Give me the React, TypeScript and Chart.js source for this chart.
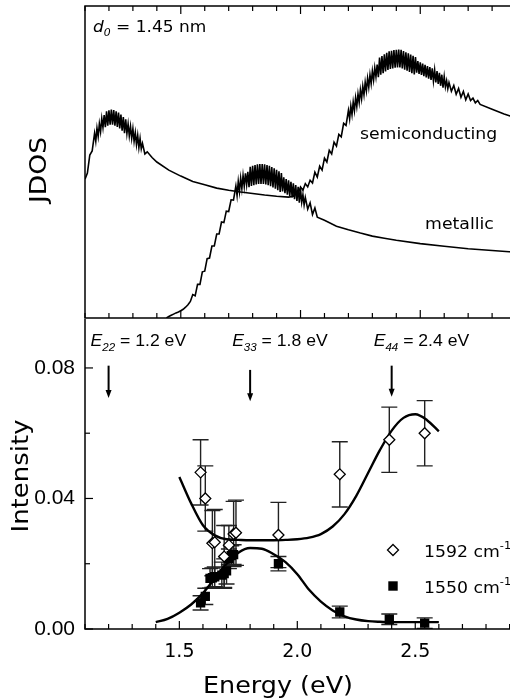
import React, { useEffect, useRef } from "react";
import { Chart, registerables } from "chart.js";
Chart.register(...registerables);

// ---------------- data ----------------
// Top panel: joint density of states (arbitrary units)
const SEMI_E = [
  1.10, 1.11, 1.12, 1.13,
  1.14, 1.145, 1.15, 1.155, 1.16, 1.165, 1.17, 1.175, 1.18, 1.185,
  1.19, 1.195, 1.20, 1.205, 1.21, 1.215, 1.22, 1.225, 1.23, 1.235,
  1.24, 1.245, 1.25, 1.255, 1.26, 1.265, 1.27, 1.275, 1.28, 1.285,
  1.29, 1.295, 1.30, 1.305, 1.31, 1.315, 1.32, 1.325, 1.33, 1.335, 1.34,
  1.35, 1.36,
  1.38, 1.40, 1.45, 1.50, 1.55, 1.60, 1.65, 1.70, 1.75, 1.80, 1.85, 1.90, 1.95, 1.97,
  1.98, 1.99, 2.00, 2.01, 2.02, 2.03, 2.04, 2.05, 2.06, 2.07, 2.08, 2.09, 2.10, 2.11, 2.12, 2.13, 2.14, 2.15, 2.16, 2.17, 2.18, 2.19,
  2.20, 2.205, 2.21, 2.215, 2.22, 2.225, 2.23, 2.235, 2.24, 2.245,
  2.25, 2.255, 2.26, 2.265, 2.27, 2.275, 2.28, 2.285, 2.29, 2.295,
  2.30, 2.305, 2.31, 2.315, 2.32, 2.325, 2.33, 2.335, 2.34, 2.345,
  2.35, 2.355, 2.36, 2.365, 2.37, 2.375, 2.38, 2.385, 2.39, 2.395,
  2.40, 2.405, 2.41, 2.415, 2.42, 2.425, 2.43, 2.435, 2.44, 2.445,
  2.45, 2.455, 2.46, 2.465, 2.47, 2.475, 2.48, 2.485, 2.49, 2.495,
  2.50, 2.505, 2.51, 2.515, 2.52, 2.525, 2.53, 2.535, 2.54, 2.545,
  2.55, 2.555, 2.56, 2.565, 2.57, 2.575, 2.58, 2.585, 2.59, 2.595,
  2.60, 2.605, 2.61, 2.615, 2.62,
  2.63, 2.64, 2.65, 2.66, 2.67, 2.68, 2.69, 2.70, 2.71, 2.72, 2.73, 2.74, 2.75,
  2.80, 2.85, 2.90, 3.00,
];
const SEMI_J = [
  46.3, 48.3, 54.3, 55.7,
  61.6, 58.9, 63.3, 60.5, 64.8, 62.1, 66.5, 63.5, 67.6, 63.6,
  68.9, 64.1, 69.2, 64.4, 69.5, 64.4, 69.3, 64.1, 68.9, 63.7,
  68.5, 63.2, 67.8, 62.4, 67.0, 61.6, 66.2, 61.5, 64.7, 60.7,
  63.9, 59.9, 63.1, 58.9, 61.8, 57.8, 60.9, 56.8, 59.9, 56.4, 58.2,
  54.7, 55.4,
  53.5, 52.0, 49.3, 47.3, 45.5, 44.4, 43.3, 42.6, 42.0, 41.5, 41.0, 40.6, 40.3, 40.6,
  42.3, 41.4, 43.7, 42.6, 44.8, 43.7, 45.9, 45.0, 48.6, 47.0, 50.6, 49.3, 53.3, 52.0, 55.9, 54.7, 58.6, 57.3, 61.2, 60.4, 64.9, 64.2,
  69.2, 66.4, 70.7, 67.8, 72.0, 69.1, 73.4, 70.5, 74.7, 71.8,
  76.0, 73.1, 77.3, 74.4, 78.6, 75.7, 79.9, 76.9, 81.1, 78.1,
  82.3, 79.3, 83.4, 80.4, 84.5, 80.3, 86.8, 81.1, 87.3, 81.6,
  87.9, 82.2, 88.4, 82.7, 88.9, 83.0, 89.1, 83.2, 89.3, 83.4,
  89.4, 83.5, 89.5, 83.5, 89.4, 83.2, 89.0, 82.8, 88.6, 82.4,
  88.2, 82.0, 87.8, 81.6, 87.4, 81.2, 87.0, 81.8, 85.6, 81.4,
  85.2, 81.0, 84.8, 80.6, 84.4, 80.2, 84.0, 79.8, 83.6, 79.4,
  83.2, 79.0, 82.7, 78.5, 82.3, 78.0, 81.7, 77.4, 81.1, 76.8,
  80.5, 77.0, 79.1, 76.4, 78.5,
  75.6, 77.5, 74.6, 76.5, 73.6, 75.5, 72.7, 74.7, 72.5, 73.3, 71.7, 72.5, 71.2,
  69.6, 68.0, 66.7, 64.5,
];
const MET_E = [
  1.44, 1.45, 1.46, 1.47, 1.48, 1.49, 1.50, 1.51, 1.52, 1.53,
  1.54, 1.55, 1.56, 1.57, 1.58, 1.59, 1.60, 1.61, 1.62, 1.63,
  1.64, 1.65, 1.66, 1.67, 1.68, 1.69, 1.70, 1.71, 1.72,
  1.73, 1.735, 1.74, 1.745, 1.75, 1.755, 1.76, 1.765, 1.77, 1.775,
  1.78, 1.785, 1.79, 1.795, 1.80, 1.805, 1.81, 1.815, 1.82, 1.825,
  1.83, 1.835, 1.84, 1.845, 1.85, 1.855, 1.86, 1.865, 1.87, 1.875,
  1.88, 1.885, 1.89, 1.895, 1.90, 1.905, 1.91, 1.915, 1.92, 1.925,
  1.93, 1.935, 1.94, 1.945, 1.95, 1.955, 1.96, 1.965, 1.97, 1.975,
  1.98, 1.985, 1.99, 1.995, 2.00, 2.005, 2.01, 2.015, 2.02,
  2.03, 2.04, 2.05, 2.06, 2.07,
  2.10, 2.15, 2.20, 2.25, 2.30, 2.35, 2.40, 2.50, 2.60, 2.70, 2.80, 2.90, 3.00,
];
const MET_J = [
  0.0, 0.5, 0.9, 1.3, 1.7, 2.0, 2.4, 2.9, 3.6, 4.4,
  5.5, 7.8, 7.4, 11.2, 11.2, 15.4, 15.6, 19.8, 20.0, 24.0,
  24.0, 28.0, 28.0, 32.0, 31.8, 35.6, 35.5, 39.4, 39.3,
  44.0, 40.8, 45.5, 42.1, 46.6, 43.1, 47.5, 43.9, 48.2, 44.5,
  48.7, 43.6, 50.4, 44.0, 50.7, 44.3, 51.0, 44.5, 51.2, 44.7,
  51.3, 44.7, 51.3, 44.7, 51.2, 44.5, 51.0, 44.3, 50.7, 43.9,
  50.3, 43.5, 49.9, 43.1, 49.4, 42.6, 48.9, 42.0, 48.3, 42.2,
  46.9, 41.6, 46.3, 41.1, 45.9, 40.7, 45.4, 40.2, 44.9, 39.6,
  44.3, 39.0, 43.7, 38.4, 43.0, 38.6, 41.1, 37.7, 40.2,
  36.3, 38.4, 34.5, 36.7, 33.6,
  32.6, 30.6, 29.4, 28.3, 27.3, 26.6, 25.9, 24.8, 23.9, 23.1, 22.5, 21.9, 21.5,
];
const JDOS_LABELS = ["semiconducting", "metallic"];
const JDOS_LABEL_E = [2.248, 2.52];
const JDOS_LABEL_V = [59.7, 29.7];

// Bottom panel: Raman intensities
const D1592_E = [1.59, 1.61, 1.64, 1.65, 1.69, 1.71, 1.73, 1.74, 1.92, 2.18, 2.39, 2.54];
const D1592_I = [0.048, 0.040, 0.0263, 0.0266, 0.0222, 0.0257, 0.0291, 0.0295, 0.0288, 0.0474, 0.058, 0.060];
const D1592_ERR = [0.010, 0.010, 0.010, 0.010, 0.0095, 0.006, 0.010, 0.010, 0.010, 0.010, 0.010, 0.010];

const D1550_E = [1.59, 1.61, 1.63, 1.64, 1.65, 1.68, 1.69, 1.70, 1.71, 1.72, 1.73, 1.92, 2.18, 2.39, 2.54];
const D1550_I = [0.0080, 0.0100, 0.0155, 0.0157, 0.0160, 0.0165, 0.0170, 0.0178, 0.0215, 0.0225, 0.0228, 0.0200, 0.0052, 0.0030, 0.0018];
const D1550_ERR = [0.0022, 0.0025, 0.003, 0.003, 0.003, 0.004, 0.0045, 0.004, 0.003, 0.003, 0.003, 0.0022, 0.0018, 0.0016, 0.0016];

const FIT1592_E = [1.50, 1.55, 1.60, 1.65, 1.70, 1.75, 1.80, 1.85, 1.90, 1.95, 2.00, 2.05, 2.10, 2.15, 2.20, 2.25, 2.30, 2.35, 2.40, 2.45, 2.50, 2.55, 2.60];
const FIT1592_I = [0.0466, 0.0385, 0.0318, 0.0287, 0.0275, 0.0273, 0.0272, 0.0272, 0.0272, 0.0273, 0.0275, 0.0280, 0.0291, 0.0314, 0.0352, 0.0408, 0.0478, 0.0548, 0.0608, 0.0647, 0.0658, 0.0640, 0.0606];
const FIT1550_E = [1.40, 1.45, 1.50, 1.55, 1.60, 1.65, 1.70, 1.75, 1.80, 1.85, 1.90, 1.95, 2.00, 2.05, 2.10, 2.15, 2.20, 2.25, 2.30, 2.35, 2.40, 2.50, 2.60];
const FIT1550_I = [0.0021, 0.0031, 0.0050, 0.0075, 0.0110, 0.0155, 0.0200, 0.0234, 0.0248, 0.0246, 0.0229, 0.0205, 0.0168, 0.0120, 0.0084, 0.0057, 0.0039, 0.0029, 0.0024, 0.0022, 0.0021, 0.0021, 0.0021];

const TRANS_SUB = ["22", "33", "44"];
const TRANS_E = [1.2, 1.8, 2.4];
const ARROW_TOP = [0.0807, 0.0794, 0.0807];
const ARROW_TIP = [0.0708, 0.0698, 0.0712];

const LEGEND_LABELS = ["1592", "1550"];

const X_TICKS = [1.5, 2.0, 2.5];
const Y_TICKS = [0, 0.04, 0.08];
const X_MIN = 1.1;
const X_MAX = 3.0;
const JDOS_MAX = 104;
const I_MAX = 0.095;

// ---------------- helpers ----------------
const W = 540;
const H = 700;
const DV = '"DejaVu Sans", Verdana, sans-serif';
const LS = '"Liberation Sans", Arial, sans-serif';

function pts(xs: number[], ys: number[]) {
  return xs.map((x, i) => ({ x, y: ys[i] }));
}

type Part = { t: string; font: string; dy?: number };
function drawParts(ctx: CanvasRenderingContext2D, parts: Part[], x: number, y: number, sx = 1) {
  ctx.save();
  ctx.translate(x, y);
  ctx.scale(sx, 1);
  ctx.textAlign = "left";
  ctx.textBaseline = "alphabetic";
  let cx = 0;
  for (const p of parts) {
    ctx.font = p.font;
    ctx.fillText(p.t, cx, p.dy || 0);
    cx += ctx.measureText(p.t).width;
  }
  ctx.restore();
}

function fitText(ctx: CanvasRenderingContext2D, text: string, font: string, cx: number, cy: number, width: number, rotate = false) {
  ctx.save();
  ctx.font = font;
  const w = ctx.measureText(text).width;
  ctx.translate(cx, cy);
  if (rotate) ctx.rotate(-Math.PI / 2);
  ctx.scale(width / w, 1);
  ctx.textAlign = "center";
  ctx.textBaseline = "alphabetic";
  ctx.fillText(text, 0, 0);
  ctx.restore();
}

function drawXTicks(ctx: CanvasRenderingContext2D, xs: any, yEdge: number, dir: number) {
  for (let k = 11; k <= 30; k++) {
    const v = k / 10;
    const px = xs.getPixelForValue(v);
    const len = k % 5 === 0 ? 8 : 5;
    ctx.beginPath();
    ctx.moveTo(px, yEdge);
    ctx.lineTo(px, yEdge + dir * len);
    ctx.stroke();
  }
}

const topDecor = {
  id: "topDecor",
  afterDraw(chart: any) {
    const { ctx, chartArea: a, scales } = chart;
    const xs = scales.x;
    const ys = scales.y;
    ctx.save();
    ctx.strokeStyle = "#000";
    ctx.fillStyle = "#000";
    ctx.lineWidth = 1.5;
    ctx.beginPath();
    ctx.moveTo(a.right, a.top);
    ctx.lineTo(a.left, a.top);
    ctx.lineTo(a.left, a.bottom);
    ctx.lineTo(a.right, a.bottom);
    ctx.stroke();
    ctx.lineWidth = 1.2;
    drawXTicks(ctx, xs, a.bottom, -1);
    drawXTicks(ctx, xs, a.top, 1);

    drawParts(ctx, [
      { t: "d", font: `italic 16.5px ${DV}` },
      { t: "0", font: `italic 10.5px ${DV}`, dy: 4 },
      { t: " = 1.45 nm", font: `16.5px ${DV}` },
    ], a.left + 8, a.top + 26, 1.03);
    JDOS_LABELS.forEach((t, i) => {
      drawParts(ctx, [{ t, font: `16px ${DV}` }], xs.getPixelForValue(JDOS_LABEL_E[i]), ys.getPixelForValue(JDOS_LABEL_V[i]), 1.08);
    });
    fitText(ctx, "JDOS", `23px ${DV}`, 46, (a.top + a.bottom) / 2 + 8, 66, true);
    ctx.restore();
  },
};

const bottomDecor = {
  id: "bottomDecor",
  beforeDatasetsDraw(chart: any) {
    const { ctx, scales } = chart;
    const xs = scales.x;
    const ys = scales.y;
    ctx.save();
    ctx.strokeStyle = "#222";
    ctx.lineWidth = 1.4;
    chart.data.datasets.forEach((ds: any) => {
      const errs = ds.errors as number[] | undefined;
      if (!errs) return;
      ds.data.forEach((p: any, i: number) => {
        const px = xs.getPixelForValue(p.x);
        const y1 = ys.getPixelForValue(p.y + errs[i]);
        const y2 = ys.getPixelForValue(p.y - errs[i]);
        ctx.beginPath();
        ctx.moveTo(px, y1);
        ctx.lineTo(px, y2);
        ctx.moveTo(px - 8, y1);
        ctx.lineTo(px + 8, y1);
        ctx.moveTo(px - 8, y2);
        ctx.lineTo(px + 8, y2);
        ctx.stroke();
      });
    });
    ctx.restore();
  },
  afterDraw(chart: any) {
    const { ctx, chartArea: a, scales } = chart;
    const xs = scales.x;
    const ys = scales.y;
    ctx.save();
    ctx.strokeStyle = "#000";
    ctx.fillStyle = "#000";
    ctx.lineWidth = 1.5;
    ctx.beginPath();
    ctx.moveTo(a.left, a.top);
    ctx.lineTo(a.left, a.bottom);
    ctx.lineTo(a.right, a.bottom);
    ctx.stroke();
    ctx.lineWidth = 1.2;
    drawXTicks(ctx, xs, a.bottom, -1);
    for (let k = 0; k <= 4; k++) {
      const py = ys.getPixelForValue(k * 0.02);
      const len = k % 2 === 0 ? 8 : 5;
      ctx.beginPath();
      ctx.moveTo(a.left, py);
      ctx.lineTo(a.left + len, py);
      ctx.stroke();
    }

    TRANS_E.forEach((e, i) => {
      const px = xs.getPixelForValue(e);
      const yTop = ys.getPixelForValue(ARROW_TOP[i]);
      const yTip = ys.getPixelForValue(ARROW_TIP[i]);
      ctx.lineWidth = 2;
      ctx.beginPath();
      ctx.moveTo(px, yTop);
      ctx.lineTo(px, yTip - 6);
      ctx.stroke();
      ctx.beginPath();
      ctx.moveTo(px - 3, yTip - 8);
      ctx.lineTo(px + 3, yTip - 8);
      ctx.lineTo(px, yTip);
      ctx.closePath();
      ctx.fill();
      drawParts(ctx, [
        { t: "E", font: `italic 16px ${LS}` },
        { t: TRANS_SUB[i], font: `italic 10.5px ${LS}`, dy: 5 },
        { t: ` = ${e.toFixed(1)} eV`, font: `16px ${LS}` },
      ], px - 18, a.top + 27, 1.1);
    });

    const lx = a.left + 308;
    const rows = [a.top + 231, a.top + 267];
    ctx.lineWidth = 1.3;
    ctx.beginPath();
    ctx.moveTo(lx, rows[0] - 5.5);
    ctx.lineTo(lx + 5.5, rows[0]);
    ctx.lineTo(lx, rows[0] + 5.5);
    ctx.lineTo(lx - 5.5, rows[0]);
    ctx.closePath();
    ctx.fillStyle = "#fff";
    ctx.fill();
    ctx.stroke();
    ctx.fillStyle = "#000";
    ctx.fillRect(lx - 4.7, rows[1] - 4.7, 9.4, 9.4);
    LEGEND_LABELS.forEach((t, i) => {
      drawParts(ctx, [
        { t: `${t} cm`, font: `16px ${DV}` },
        { t: "-1", font: `10.5px ${DV}`, dy: -8 },
      ], a.left + 339, rows[i] + 6.5, 1.08);
    });

    fitText(ctx, "Energy (eV)", `23px ${DV}`, a.left + 193, a.bottom + 64, 150);
    fitText(ctx, "Intensity", `23px ${DV}`, 28, (a.top + a.bottom) / 2 + 2, 113, true);
    ctx.restore();
  },
};

export default function App() {
  const topRef = useRef<HTMLCanvasElement>(null);
  const botRef = useRef<HTMLCanvasElement>(null);

  useEffect(() => {
    const top = new Chart(topRef.current as HTMLCanvasElement, {
      type: "line",
      data: {
        datasets: [
          { data: pts(SEMI_E, SEMI_J), borderColor: "#000", borderWidth: 1.6, pointRadius: 0, tension: 0 },
          { data: pts(MET_E, MET_J), borderColor: "#000", borderWidth: 1.6, pointRadius: 0, tension: 0 },
        ],
      },
      options: {
        responsive: false,
        animation: false,
        devicePixelRatio: 1,
        events: [],
        layout: { padding: { left: 85, top: 6, right: 0, bottom: H - 318 } },
        plugins: { legend: { display: false }, tooltip: { enabled: false } },
        scales: {
          x: { type: "linear", min: X_MIN, max: X_MAX, display: false },
          y: { type: "linear", min: 0, max: JDOS_MAX, display: false },
        },
      },
      plugins: [topDecor],
    } as any);

    const bottom = new Chart(botRef.current as HTMLCanvasElement, {
      type: "line",
      data: {
        datasets: [
          {
            label: "1592 cm-1",
            data: pts(D1592_E, D1592_I),
            errors: D1592_ERR,
            showLine: false,
            pointStyle: "rectRot",
            pointRadius: 5.5,
            pointBorderWidth: 1.3,
            pointBackgroundColor: "#fff",
            pointBorderColor: "#000",
          },
          {
            label: "1550 cm-1",
            data: pts(D1550_E, D1550_I),
            errors: D1550_ERR,
            showLine: false,
            pointStyle: "rect",
            pointRadius: 6.6,
            pointBorderWidth: 0,
            pointBackgroundColor: "#000",
            pointBorderColor: "#000",
          },
          {
            data: pts(FIT1592_E, FIT1592_I),
            borderColor: "#000",
            borderWidth: 2.4,
            pointRadius: 0,
            cubicInterpolationMode: "monotone",
          },
          {
            data: pts(FIT1550_E, FIT1550_I),
            borderColor: "#000",
            borderWidth: 2.4,
            pointRadius: 0,
            cubicInterpolationMode: "monotone",
          },
        ],
      },
      options: {
        responsive: false,
        animation: false,
        devicePixelRatio: 1,
        events: [],
        layout: { padding: { left: 0, top: 319, right: 0, bottom: 0 } },
        plugins: { legend: { display: false }, tooltip: { enabled: false } },
        scales: {
          x: {
            type: "linear",
            min: X_MIN,
            max: X_MAX,
            grid: { display: false, drawTicks: false },
            border: { display: false },
            ticks: {
              color: "#000",
              font: { family: DV, size: 19 },
              padding: 12,
              maxRotation: 0,
              autoSkip: false,
              callback: (v: any) => Number(v).toFixed(1),
            },
            afterBuildTicks: (s: any) => {
              s.ticks = X_TICKS.map((value) => ({ value }));
            },
            afterFit: (s: any) => {
              s.height = H - 629;
            },
          },
          y: {
            type: "linear",
            min: 0,
            max: I_MAX,
            grid: { display: false, drawTicks: false },
            border: { display: false },
            ticks: {
              color: "#000",
              font: { family: LS, size: 21 },
              padding: 10,
              callback: (v: any) => Number(v).toFixed(2),
            },
            afterBuildTicks: (s: any) => {
              s.ticks = Y_TICKS.map((value) => ({ value }));
            },
            afterFit: (s: any) => {
              s.width = 85;
            },
          },
        },
      },
      plugins: [bottomDecor],
    } as any);

    return () => {
      top.destroy();
      bottom.destroy();
    };
  }, []);

  return (
    <div style={{ position: "fixed", left: 0, top: 0, width: 510, height: 700, overflow: "hidden", background: "#fff" }}>
      <canvas ref={topRef} width={W} height={H} style={{ position: "absolute", left: 0, top: 0, width: W, height: H }} />
      <canvas ref={botRef} width={W} height={H} style={{ position: "absolute", left: 0, top: 0, width: W, height: H }} />
    </div>
  );
}
